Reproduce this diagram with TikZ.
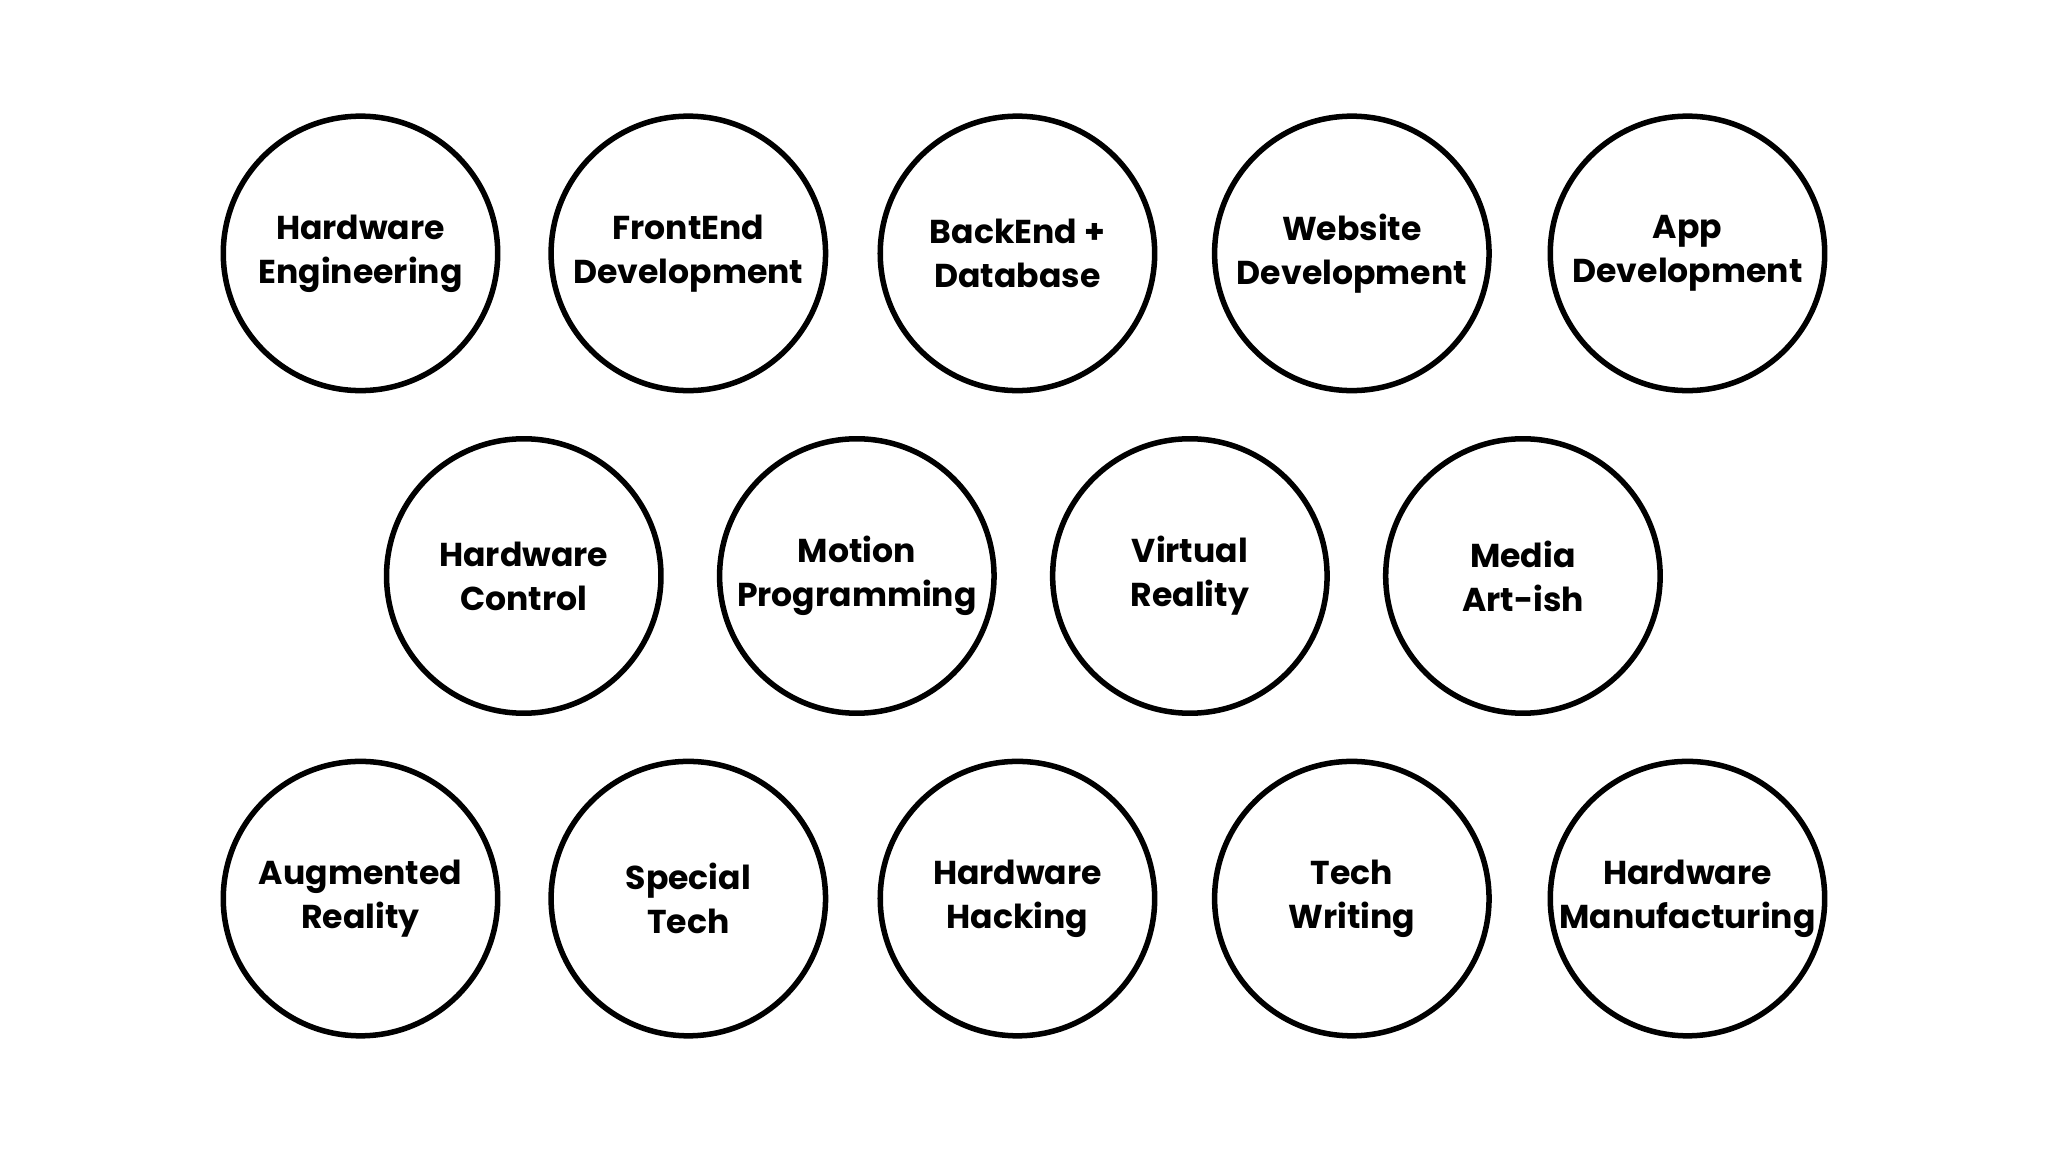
\documentclass[tikz,border=0pt]{standalone}
\usepackage{fontspec}
\setmainfont{Poppins}
\begin{document}
\begin{tikzpicture}[x=0.01cm,y=-0.01cm,
  bub/.style={circle,draw=black,line width=1.2pt,minimum size=2.1cm,inner sep=0pt,align=center,
    font=\fontsize{7.2}{9.6}\selectfont\bfseries}]
\useasboundingbox (0,0) rectangle (1568,882);
\node[bub] (a1) at (276,194) {Hardware\\Engineering};
\node[bub] (a2) at (527,194) {FrontEnd\\Development};
\node[bub] (a3) at (779,194) {BackEnd +\\Database};
\node[bub] (a4) at (1035,194) {Website\\Development};
\node[bub] (a5) at (1292,194) {App\\Development};
\node[bub] (b1) at (401,441) {Hardware\\Control};
\node[bub] (b2) at (656,441) {Motion\\Programming};
\node[bub] (b3) at (911,441) {Virtual\\Reality};
\node[bub] (b4) at (1166,441) {Media\\Art-ish};
\node[bub] (c1) at (276,688) {Augmented\\Reality};
\node[bub] (c2) at (527,688) {Special\\Tech};
\node[bub] (c3) at (779,688) {Hardware\\Hacking};
\node[bub] (c4) at (1035,688) {Tech\\Writing};
\node[bub] (c5) at (1292,688) {Hardware\\Manufacturing};
\end{tikzpicture}
\end{document}
